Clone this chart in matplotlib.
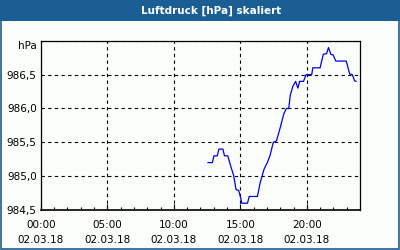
import matplotlib.pyplot as plt
from matplotlib.ticker import MultipleLocator, FixedLocator

# time of day in hours, pressure in hPa
hours = [12.57, 12.9, 13.02, 13.27, 13.39, 13.69, 13.81, 14.06, 14.26, 14.5, 14.68,
         14.88, 15.0, 15.12, 15.54, 15.67, 16.29, 16.49, 16.78, 17.03, 17.23, 17.48,
         17.72, 18.02, 18.27, 18.47, 18.64, 18.76, 18.96, 19.16, 19.33, 19.46, 19.75,
         19.95, 20.37, 20.45, 21.0, 21.24, 21.49, 21.63, 21.81, 21.98, 22.18, 22.97,
         23.22, 23.42, 23.59, 23.71]
pressure = [985.20, 985.20, 985.30, 985.30, 985.40, 985.40, 985.30, 985.30, 985.16,
            985.01, 984.80, 984.79, 984.70, 984.60, 984.60, 984.70, 984.70, 984.90,
            985.10, 985.20, 985.30, 985.50, 985.52, 985.73, 985.92, 986.00, 986.00,
            986.20, 986.33, 986.40, 986.30, 986.40, 986.40, 986.50, 986.50, 986.60,
            986.60, 986.80, 986.81, 986.90, 986.80, 986.79, 986.70, 986.70, 986.51,
            986.50, 986.41, 986.40]

x_ticks = [0, 5, 10, 15, 20]
x_labels = ['00:00\n02.03.18', '05:00\n02.03.18', '10:00\n02.03.18',
            '15:00\n02.03.18', '20:00\n02.03.18']
y_ticks = [984.5, 985.0, 985.5, 986.0, 986.5, 987.0]
y_labels = ['984,5', '985,0', '985,5', '986,0', '986,5', 'hPa']

blue = '#1b5e93'
bg = '#fbfdfb'

fig = plt.figure(figsize=(4, 2.5), dpi=100, facecolor=bg)

# title bar and frame
fig.patches.append(plt.Rectangle((0, 0.918), 1, 0.082, transform=fig.transFigure,
                                 facecolor=blue, edgecolor='none'))
fig.patches.append(plt.Rectangle((0.0015, 0.003), 0.997, 0.994, transform=fig.transFigure,
                                 facecolor='none', edgecolor=blue, lw=1.2))
fig.text(0.529, 0.958, 'Luftdruck [hPa] skaliert', color='white', fontsize=7.5,
         fontweight='bold', ha='center', va='center')

ax = fig.add_axes([0.102, 0.16, 0.798, 0.677])
ax.set_facecolor(bg)
ax.plot(hours, pressure, color='#0000ee', lw=0.9)

ax.set_xlim(0, 24)
ax.set_ylim(984.5, 987.0)
ax.set_xticks(x_ticks)
ax.set_xticklabels(x_labels, fontsize=7.5, linespacing=1.6)
ax.xaxis.set_minor_locator(MultipleLocator(1))
ax.set_yticks(y_ticks)
ax.set_yticklabels(y_labels, fontsize=7.5)
ax.get_yticklabels()[-1].set_va('top')

ax.tick_params(axis='x', which='major', direction='in', length=4, width=0.8, pad=7.5)
ax.tick_params(axis='x', which='minor', direction='in', length=2.5, width=0.8)
ax.tick_params(axis='y', length=0, pad=3)

ax.grid(True, which='major', color='black', ls=(0, (3, 3)), lw=0.8)
ax.yaxis.set_major_locator(FixedLocator(y_ticks))
for s in ax.spines.values():
    s.set_linewidth(0.9)
ax.spines['bottom'].set_linewidth(1.2)

fig.savefig('out.png', dpi=100, facecolor=bg)
